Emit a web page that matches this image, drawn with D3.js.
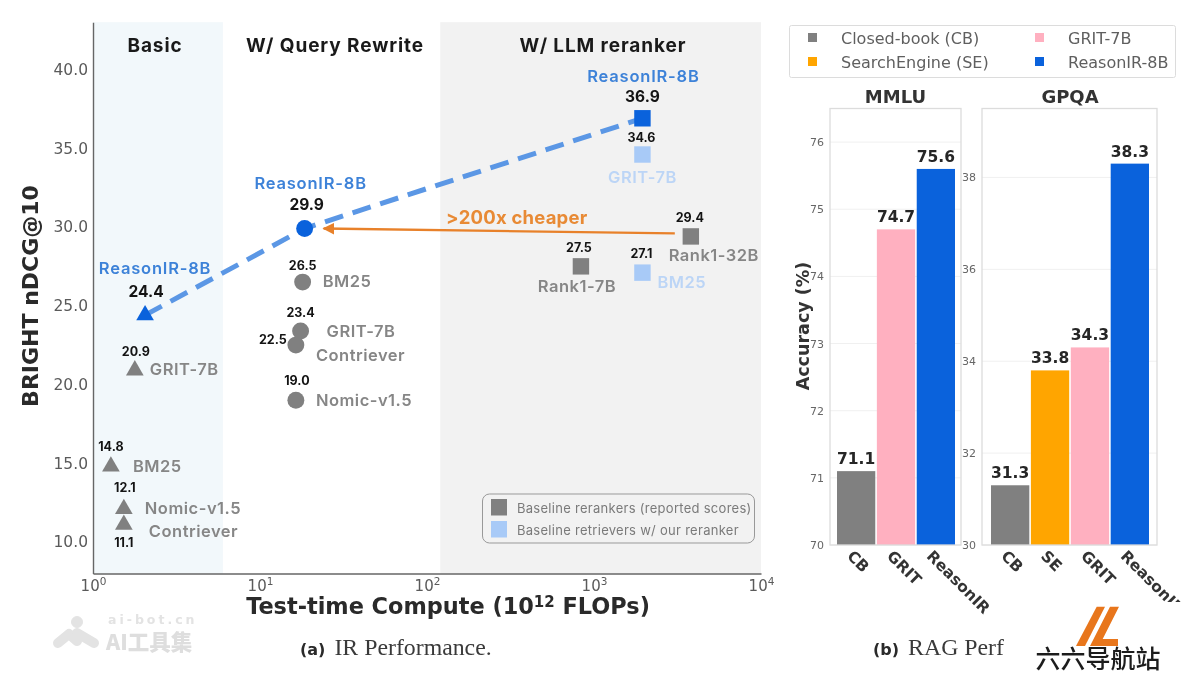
<!DOCTYPE html>
<html>
<head>
<meta charset="utf-8">
<script src="https://cdn.jsdelivr.net/npm/d3@7"></script>
<style>
  html, body { margin: 0; padding: 0; background: #fff; }
  svg { display: block; filter: blur(0.35px); }
  text { font-family: "DejaVu Sans", sans-serif; }
  .geo { font-family: Inter, sans-serif; }
</style>
</head>
<body>
<div id="chart"></div>
<script>
// ---- data: IR performance scatter
var pointNames = ["ReasonIR-8B", "GRIT-7B", "BM25", "Nomic-v1.5", "Contriever",
                  "ReasonIR-8B", "BM25", "GRIT-7B", "Contriever", "Nomic-v1.5",
                  "ReasonIR-8B", "GRIT-7B", "BM25", "Rank1-7B", "Rank1-32B"];
var pointCompute = [2.05, 1.78, 1.28, 1.53, 1.53,
                    18.5, 18, 17.5, 16.4, 16.4,
                    1950, 1950, 1950, 835, 3800];
var pointScores = [24.4, 20.9, 14.8, 12.1, 11.1,
                   29.9, 26.5, 23.4, 22.5, 19.0,
                   36.9, 34.6, 27.1, 27.5, 29.4];
var pointValueLabels = ["24.4", "20.9", "14.8", "12.1", "11.1",
                        "29.9", "26.5", "23.4", "22.5", "19.0",
                        "36.9", "34.6", "27.1", "27.5", "29.4"];
var pointGroups = ["basic", "basic", "basic", "basic", "basic",
                   "rewrite", "rewrite", "rewrite", "rewrite", "rewrite",
                   "rerank", "rerank", "rerank", "rerank", "rerank"];
var pointKinds = ["ours", "base", "base", "base", "base",
                  "ours", "base", "base", "base", "base",
                  "ours", "retr", "retr", "base", "base"];
var trendCompute = [2.05, 18.5, 1950];
var trendScores = [24.4, 29.9, 36.9];
var yTickValues = [10, 15, 20, 25, 30, 35, 40];
var xTickValues = [1, 10, 100, 1000, 10000];
var xTickExponents = ["0", "1", "2", "3", "4"];
var bandNames = ["Basic", "W/ Query Rewrite", "W/ LLM reranker"];
var bandEdges = [1, 6, 120, 10000];
var scatterLegend = ["Baseline rerankers (reported scores)", "Baseline retrievers w/ our reranker"];

// ---- data: RAG performance bars
var mmluCats = ["CB", "GRIT", "ReasonIR"];
var mmluValues = [71.1, 74.7, 75.6];
var mmluTicks = [70, 71, 72, 73, 74, 75, 76];
var gpqaCats = ["CB", "SE", "GRIT", "ReasonIR"];
var gpqaValues = [31.3, 33.8, 34.3, 38.3];
var gpqaTicks = [30, 32, 34, 36, 38];
var barLegend = ["Closed-book (CB)", "SearchEngine (SE)", "GRIT-7B", "ReasonIR-8B"];

// ---- layout of the scatter labels, relative to each point: [dx, dy, anchor]
var valueOffsets = [[1,-18,"middle"],[1,-14,"middle"],[0,-15,"middle"],[1,-17,"middle"],[0,22,"middle"],
                    [2,-19,"middle"],[0,-12,"middle"],[0,-14,"middle"],[-23,-1,"middle"],[1,-15,"middle"],
                    [0,-16,"middle"],[-1,-13,"middle"],[-1,-15,"middle"],[-2,-14,"middle"],[-1,-14,"middle"]];
var nameOffsets = [[10,-41,"middle"],[15,5,"start"],[22,6,"start"],[21,5,"start"],[25,12,"start"],
                   [6,-40,"middle"],[20,5,"start"],[26,6,"start"],[20,16,"start"],[20,6,"start"],
                   [1,-36,"middle"],[0,28,"middle"],[15,15,"start"],[-4,26,"middle"],[23,25,"middle"]];

var barColors = {CB: "#808080", SE: "#ffa500", GRIT: "#ffb0c0", ReasonIR: "#0a62dc"};
var legendColors = ["#808080", "#ffa500", "#ffb0c0", "#0a62dc"];
var kindColors = {ours: "#0a62dc", base: "#808080", retr: "#a8caf7"};
var nameColors = {ours: "#3d82d8", base: "#868686", retr: "#bcd5f6"};
var symbolTypes = {basic: d3.symbolTriangle, rewrite: d3.symbolCircle, rerank: d3.symbolSquare};
var symbolSizes = {basic: 135, rewrite: 225, rerank: 270};

var svg = d3.select("#chart").append("svg").attr("width", 1200).attr("height", 675);
var defs = svg.append("defs");
defs.append("clipPath").attr("id", "gpqaClip").append("rect")
  .attr("x", 960).attr("y", 540).attr("width", 240).attr("height", 62);
defs.append("marker").attr("id", "arrowHead").attr("viewBox", "0 0 10 10")
  .attr("refX", 9).attr("refY", 5).attr("markerWidth", 12).attr("markerHeight", 12)
  .attr("markerUnits", "userSpaceOnUse").attr("orient", "auto")
  .append("path").attr("d", "M0,0L10,5L0,10Z").attr("fill", "#e8812a");

// Scatter scales
var xScale = d3.scaleLog().domain([1, 10000]).range([93, 761]);
var yScale = d3.scaleLinear().domain([8, 43]).range([573.5, 22.2]);

// Background bands
var bandFills = ["#f2f8fb", "#ffffff", "#f2f2f2"];
bandNames.forEach(function (name, i) {
  svg.append("rect")
    .attr("x", xScale(bandEdges[i]))
    .attr("y", yScale(43))
    .attr("width", xScale(bandEdges[i + 1]) - xScale(bandEdges[i]))
    .attr("height", yScale(8) - yScale(43))
    .attr("fill", bandFills[i]);
});
var bandCenters = [155, 335, 603];
bandNames.forEach(function (name, i) {
  svg.append("text").attr("class", "geo")
    .attr("x", bandCenters[i]).attr("y", 52)
    .attr("text-anchor", "middle")
    .attr("font-size", 19).attr("font-weight", 700).attr("letter-spacing", 0.9).attr("fill", "#1a1a1a")
    .text(name);
});

// Axes
var yAxis = svg.append("g")
  .attr("transform", "translate(" + xScale(1) + ",0)")
  .call(d3.axisLeft(yScale).tickValues(yTickValues).tickSize(0).tickPadding(5)
    .tickFormat(d3.format(".1f")));
yAxis.selectAll("text").attr("font-size", 15.5).attr("fill", "#5a5a5a").style("font-family", '"DejaVu Sans"');
yAxis.select(".domain").attr("stroke", "#666").attr("stroke-width", 1.4);

var xAxis = svg.append("g")
  .attr("transform", "translate(0," + yScale(8) + ")")
  .call(d3.axisBottom(xScale).tickValues(xTickValues).tickSize(0).tickPadding(7).tickFormat(function () { return ""; }));
xAxis.select(".domain").attr("stroke", "#666").attr("stroke-width", 1.4);
xAxis.selectAll("text").each(function (d, i) {
  var t = d3.select(this).attr("font-size", 15).attr("fill", "#5a5a5a").style("font-family", '"DejaVu Sans"');
  t.append("tspan").text("10");
  t.append("tspan").attr("dy", -6).attr("font-size", 10.5).text(xTickExponents[i]);
});

svg.append("text")
  .attr("transform", "translate(38,296) rotate(-90)")
  .attr("text-anchor", "middle").attr("font-size", 22).attr("font-weight", 700)
  .attr("fill", "#2a2a2a").text("BRIGHT nDCG@10");

var xTitle = svg.append("text")
  .attr("x", 448).attr("y", 614).attr("text-anchor", "middle")
  .attr("font-size", 22.4).attr("font-weight", 700).attr("fill", "#2a2a2a");
xTitle.append("tspan").text("Test-time Compute (10");
xTitle.append("tspan").attr("dy", -7).attr("font-size", 15).text("12");
xTitle.append("tspan").attr("dy", 7).text(" FLOPs)");

// Orange arrow and dashed trend line
svg.append("line")
  .attr("x1", xScale(3800) - 16).attr("y1", yScale(29.4) - 3)
  .attr("x2", xScale(18.5) + 19).attr("y2", yScale(29.9))
  .attr("stroke", "#e8812a").attr("stroke-width", 2.4)
  .attr("marker-end", "url(#arrowHead)");
svg.append("text").attr("class", "geo")
  .attr("x", 446).attr("y", 224)
  .attr("font-size", 18.5).attr("font-weight", 700).attr("letter-spacing", 0.2).attr("fill", "#e88a35")
  .text(">200x cheaper");

var trendLine = d3.line()
  .x(function (d) { return xScale(d[0]); })
  .y(function (d) { return yScale(d[1]); });
svg.append("path")
  .datum(d3.zip(trendCompute, trendScores))
  .attr("d", trendLine)
  .attr("fill", "none")
  .attr("stroke", "#5b97e5").attr("stroke-width", 5)
  .attr("stroke-dasharray", "19,10");

// Points with their labels
var pointIndex = d3.range(pointNames.length);
var pointGroup = svg.selectAll(".pt").data(pointIndex).enter().append("g")
  .attr("class", "pt")
  .attr("transform", function (i) {
    return "translate(" + xScale(pointCompute[i]) + "," + yScale(pointScores[i]) + ")";
  });
pointGroup.append("path")
  .attr("d", function (i) {
    return d3.symbol().type(symbolTypes[pointGroups[i]]).size(symbolSizes[pointGroups[i]])();
  })
  .attr("fill", function (i) { return kindColors[pointKinds[i]]; });
pointGroup.append("text").attr("class", "geo")
  .attr("x", function (i) { return valueOffsets[i][0]; })
  .attr("y", function (i) { return valueOffsets[i][1]; })
  .attr("text-anchor", function (i) { return valueOffsets[i][2]; })
  .attr("font-size", function (i) { return pointKinds[i] === "ours" ? 15.5 : 12.5; })
  .attr("font-weight", 700).attr("fill", "#141414")
  .text(function (i) { return pointValueLabels[i]; });
pointGroup.append("text").attr("class", "geo")
  .attr("x", function (i) { return nameOffsets[i][0]; })
  .attr("y", function (i) { return nameOffsets[i][1]; })
  .attr("text-anchor", function (i) { return nameOffsets[i][2]; })
  .attr("font-size", 16.5).attr("font-weight", 600)
  .attr("letter-spacing", function (i) { return pointKinds[i] === "ours" ? 0.8 : 0.5; })
  .attr("fill", function (i) { return nameColors[pointKinds[i]]; })
  .text(function (i) { return pointNames[i]; });

// Scatter legend
svg.append("rect")
  .attr("x", 482.5).attr("y", 494).attr("width", 272).attr("height", 49).attr("rx", 7)
  .attr("fill", "none").attr("stroke", "#999").attr("stroke-width", 1);
scatterLegend.forEach(function (label, i) {
  svg.append("rect").attr("x", 491).attr("y", 499 + i * 22).attr("width", 16).attr("height", 16.5)
    .attr("fill", [kindColors.base, kindColors.retr][i]);
  svg.append("text").attr("class", "geo")
    .attr("x", 517).attr("y", 513 + i * 22)
    .attr("font-size", 13).attr("letter-spacing", 0.28).attr("fill", "#7a7a7a")
    .text(label);
});

// Bar panels
function drawBars(cats, values, ticks, yDomain, left, right, bandLeft, bandRight, clip) {
  var x = d3.scaleBand().domain(cats).range([bandLeft, bandRight]).paddingInner(0.04);
  var y = d3.scaleLinear().domain(yDomain).range([545, 108.5]);
  var panel = svg.append("g");

  panel.selectAll(".grid").data(ticks).enter().append("line")
    .attr("x1", left).attr("x2", right)
    .attr("y1", function (d) { return y(d); }).attr("y2", function (d) { return y(d); })
    .attr("stroke", "#f0f0f0").attr("stroke-width", 1);

  panel.selectAll(".bar").data(cats).enter().append("rect")
    .attr("x", function (d) { return x(d); })
    .attr("y", function (d, i) { return y(values[i]); })
    .attr("width", x.bandwidth())
    .attr("height", function (d, i) { return y(yDomain[0]) - y(values[i]); })
    .attr("fill", function (d) { return barColors[d]; });

  panel.selectAll(".val").data(cats).enter().append("text")
    .attr("x", function (d) { return x(d) + x.bandwidth() / 2; })
    .attr("y", function (d, i) { return y(values[i]) - 7; })
    .attr("text-anchor", "middle")
    .attr("font-size", 15.5).attr("font-weight", 700).attr("fill", "#262626")
    .text(function (d, i) { return d3.format(".1f")(values[i]); });

  panel.append("rect")
    .attr("x", left).attr("y", y.range()[1]).attr("width", right - left).attr("height", 545 - y.range()[1])
    .attr("fill", "none").attr("stroke", "#dcdcdc").attr("stroke-width", 1.3);

  var ax = panel.append("g").attr("transform", "translate(" + left + ",0)")
    .call(d3.axisLeft(y).tickValues(ticks).tickSize(0).tickPadding(6).tickFormat(d3.format("d")));
  ax.select(".domain").remove();
  ax.selectAll("text").attr("font-size", 11).attr("fill", "#666").style("font-family", '"DejaVu Sans"');

  var labels = panel.append("g");
  if (clip) labels.attr("clip-path", "url(#" + clip + ")");
  labels.selectAll("text").data(cats).enter().append("text")
    .attr("transform", function (d) {
      return "translate(" + (x(d) + x.bandwidth() / 2 - 10) + ",557) rotate(45)";
    })
    .attr("text-anchor", "start")
    .attr("font-size", 15.5).attr("font-weight", 700).attr("fill", "#333")
    .text(function (d) { return d; });
}
drawBars(mmluCats, mmluValues, mmluTicks, [70, 76.5], 830, 961, 837, 955, null);
drawBars(gpqaCats, gpqaValues, gpqaTicks, [30, 39.5], 982, 1157, 991, 1149, "gpqaClip");

svg.append("text").attr("x", 895.5).attr("y", 103).attr("text-anchor", "middle")
  .attr("font-size", 18).attr("font-weight", 700).attr("fill", "#333").text("MMLU");
svg.append("text").attr("x", 1070).attr("y", 103).attr("text-anchor", "middle")
  .attr("font-size", 18).attr("font-weight", 700).attr("fill", "#333").text("GPQA");
svg.append("text")
  .attr("transform", "translate(809,326) rotate(-90)")
  .attr("text-anchor", "middle").attr("font-size", 17.5).attr("font-weight", 700)
  .attr("fill", "#333").text("Accuracy (%)");

// Bar legend
svg.append("rect")
  .attr("x", 789.5).attr("y", 25.5).attr("width", 386).attr("height", 52).attr("rx", 2)
  .attr("fill", "#fff").attr("stroke", "#dcdcdc").attr("stroke-width", 1);
barLegend.forEach(function (label, i) {
  var col = i < 2 ? 0 : 1;
  var row = i % 2;
  svg.append("rect")
    .attr("x", 808 + col * 227).attr("y", 33 + row * 24).attr("width", 9).attr("height", 9)
    .attr("fill", legendColors[i]);
  svg.append("text")
    .attr("x", 841 + col * 227).attr("y", 44 + row * 24)
    .attr("font-size", 16).attr("fill", "#5f5f5f")
    .text(label);
});

// Captions (the second one is cut off in the source picture)
function caption(x, bold, rest, size) {
  var t = svg.append("text").attr("x", x).attr("y", 655).attr("font-size", size);
  t.append("tspan").style("font-family", '"DejaVu Sans"').attr("font-weight", 700).attr("font-size", 16)
    .attr("fill", "#2a2a2a").text(bold);
  t.append("tspan").attr("dx", 9).style("font-family", '"Liberation Serif"').attr("fill", "#3a3a3a").text(rest);
}
caption(300, "(a)", "IR Performance.", 23.8);
caption(873, "(b)", "RAG Perf", 23.8);

// Watermark bottom left
var mark = svg.append("g").attr("fill", "#e3e3e3").attr("stroke", "#e3e3e3");
mark.append("circle").attr("cx", 77).attr("cy", 622).attr("r", 5.5);
mark.append("path").attr("d", "M58,643L69,634L77,641").attr("fill", "none").attr("stroke-width", 10).attr("stroke-linecap", "round").attr("stroke-linejoin", "round");
mark.append("path").attr("d", "M77,633L94,643").attr("fill", "none").attr("stroke-width", 10).attr("stroke-linecap", "round");
svg.append("text").attr("x", 108).attr("y", 624).attr("font-size", 12.5).attr("font-weight", 700)
  .attr("letter-spacing", 3).attr("fill", "#e3e3e3").text("ai-bot.cn");
svg.append("text").attr("x", 106).attr("y", 650).attr("font-size", 21.5).attr("font-weight", 900)
  .style("font-family", '"Noto Sans CJK SC"').attr("fill", "#dedede").text("AI工具集");

// Logo bottom right
svg.append("path").attr("d", "M1096.7,606.7L1105,606.7L1085,646L1076,646Z").attr("fill", "#e8761c");
svg.append("path").attr("d", "M1119,606.7L1110,606.7L1090,646L1118,646L1118,639L1102.7,639Z").attr("fill", "#e8761c");
svg.append("text").attr("x", 1098).attr("y", 668).attr("text-anchor", "middle")
  .attr("font-size", 25).attr("font-weight", 500).style("font-family", '"Noto Sans CJK SC"').attr("fill", "#1c1c1c").text("六六导航站");
</script>
</body>
</html>
